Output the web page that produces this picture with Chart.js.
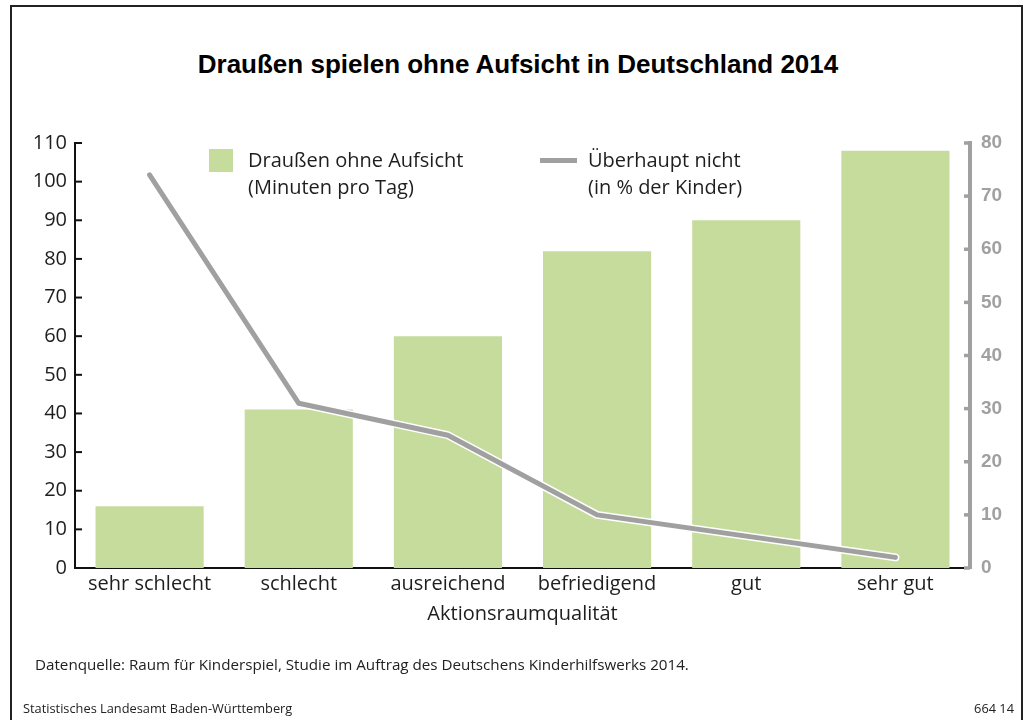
<!DOCTYPE html>
<html lang="de">
<head>
<meta charset="utf-8">
<title>Draußen spielen ohne Aufsicht in Deutschland 2014</title>
<script src="https://cdn.jsdelivr.net/npm/chart.js@4.4.1/dist/chart.umd.min.js"></script>
<style>
  html, body { margin: 0; padding: 0; background: #fff; }
  body { width: 1030px; height: 720px; position: relative; overflow: hidden; font-family: "Open Sans", sans-serif; color: #1e1e1e; }
  #rahmen { position: absolute; left: 10px; top: 5px; width: 1013px; height: 730px; border: 2px solid #222; box-sizing: border-box; }
  #titel { position: absolute; left: 10px; width: 1016px; top: 49px; text-align: center; font: bold 26px "Liberation Sans", Arial, sans-serif; color: #000; }
  #wrap { position: absolute; left: 0; top: 0; width: 1030px; height: 720px; }
  .leg { position: absolute; font-size: 20px; line-height: 27px; color: #1e1e1e; }
  .box { position: absolute; left: 209px; top: 149px; width: 24px; height: 23px; background: #c5dc9c; }
  .strich { position: absolute; left: 540px; top: 158px; width: 37px; height: 5px; background: #a0a0a0; }
  #quelle { position: absolute; left: 35px; top: 654px; font-size: 15.2px; color: #222; }
  #fuss1 { position: absolute; left: 23px; top: 699px; font-size: 12.8px; color: #222; }
  #fuss2 { position: absolute; right: 16px; top: 699px; font-size: 12.8px; color: #222; }
</style>
</head>
<body>
<div id="rahmen"></div>
<div id="titel">Draußen spielen ohne Aufsicht in Deutschland 2014</div>
<div id="wrap"><canvas id="chart"></canvas></div>
<div class="box"></div>
<div class="leg" style="left:248px; top:146px;">Draußen ohne Aufsicht<br>(Minuten pro Tag)</div>
<div class="strich"></div>
<div class="leg" style="left:588px; top:146px;">Überhaupt nicht<br>(in % der Kinder)</div>
<div id="quelle">Datenquelle: Raum für Kinderspiel, Studie im Auftrag des Deutschens Kinderhilfswerks 2014.</div>
<div id="fuss1">Statistisches Landesamt Baden-Württemberg</div>
<div id="fuss2">664 14</div>

<script>
// Daten
const kategorien = ['sehr schlecht', 'schlecht', 'ausreichend', 'befriedigend', 'gut', 'sehr gut'];
const minutenProTag = [16, 41, 60, 82, 90, 108];
const ueberhauptNicht = [74, 31, 25, 10, 6, 2];
const achseTitel = 'Aktionsraumqualität';
const linksMax = 110;
const rechtsMax = 80;
const schritt = 10;

const GRUEN = '#c5dc9c';
const GRAU = '#a0a0a0';

// kleine Striche nach innen an beiden y-Achsen
const innenTicks = {
  id: 'innenTicks',
  afterDraw(chart) {
    const { ctx } = chart;
    [['y', 1, '#111', 2, 7], ['y1', -1, GRAU, 3.5, 6]].forEach(([id, dir, col, lw, len]) => {
      const s = chart.scales[id];
      const x = dir > 0 ? s.right : s.left;
      ctx.save();
      ctx.strokeStyle = col;
      ctx.lineWidth = lw;
      s.ticks.forEach(t => {
        const y = s.getPixelForValue(t.value);
        ctx.beginPath();
        ctx.moveTo(x, y);
        ctx.lineTo(x + dir * len, y);
        ctx.stroke();
      });
      ctx.restore();
    });
  }
};

new Chart(document.getElementById('chart'), {
  data: {
    labels: kategorien,
    datasets: [
      {
        type: 'bar',
        label: 'Draußen ohne Aufsicht (Minuten pro Tag)',
        data: minutenProTag,
        backgroundColor: GRUEN,
        borderWidth: 0,
        barPercentage: 0.725,
        categoryPercentage: 1,
        yAxisID: 'y',
        order: 3
      },
      {
        type: 'line',
        label: 'Rand',
        data: ueberhauptNicht,
        borderColor: '#fff',
        borderWidth: 8,
        borderCapStyle: 'round',
        borderJoinStyle: 'round',
        pointRadius: 0,
        tension: 0,
        yAxisID: 'y1',
        order: 2
      },
      {
        type: 'line',
        label: 'Überhaupt nicht (in % der Kinder)',
        data: ueberhauptNicht,
        borderColor: GRAU,
        borderWidth: 5,
        borderCapStyle: 'round',
        borderJoinStyle: 'round',
        pointRadius: 0,
        tension: 0,
        yAxisID: 'y1',
        order: 1
      }
    ]
  },
  options: {
    responsive: true,
    maintainAspectRatio: false,
    animation: false,
    layout: { padding: { top: 143, right: 0, bottom: 94, left: 0 } },
    plugins: { legend: { display: false }, tooltip: { enabled: false } },
    scales: {
      x: {
        grid: { display: false, drawTicks: false },
        border: { display: true, color: '#111', width: 2 },
        ticks: { color: '#1e1e1e', font: { family: 'Open Sans', size: 20 }, padding: 4, maxRotation: 0 },
        title: { display: true, text: achseTitel, color: '#1e1e1e', font: { family: 'Open Sans', size: 20 }, padding: 0 },
        afterFit(s) { s.height = 58; }
      },
      y: {
        position: 'left',
        min: 0,
        max: linksMax,
        grid: { display: false, drawTicks: false },
        border: { display: true, color: '#111', width: 2 },
        ticks: { stepSize: schritt, color: '#1e1e1e', font: { family: 'Open Sans', size: 20 }, padding: 8 },
        afterFit(s) { s.width = 75; }
      },
      y1: {
        position: 'right',
        min: 0,
        max: rechtsMax,
        grid: { display: false, drawTicks: false },
        border: { display: true, color: GRAU, width: 4 },
        ticks: { stepSize: schritt, color: GRAU, font: { family: 'Liberation Sans', size: 19, weight: 'bold' }, padding: 11 },
        afterFit(s) { s.width = 60; }
      }
    }
  },
  plugins: [innenTicks]
});
</script>
</body>
</html>
